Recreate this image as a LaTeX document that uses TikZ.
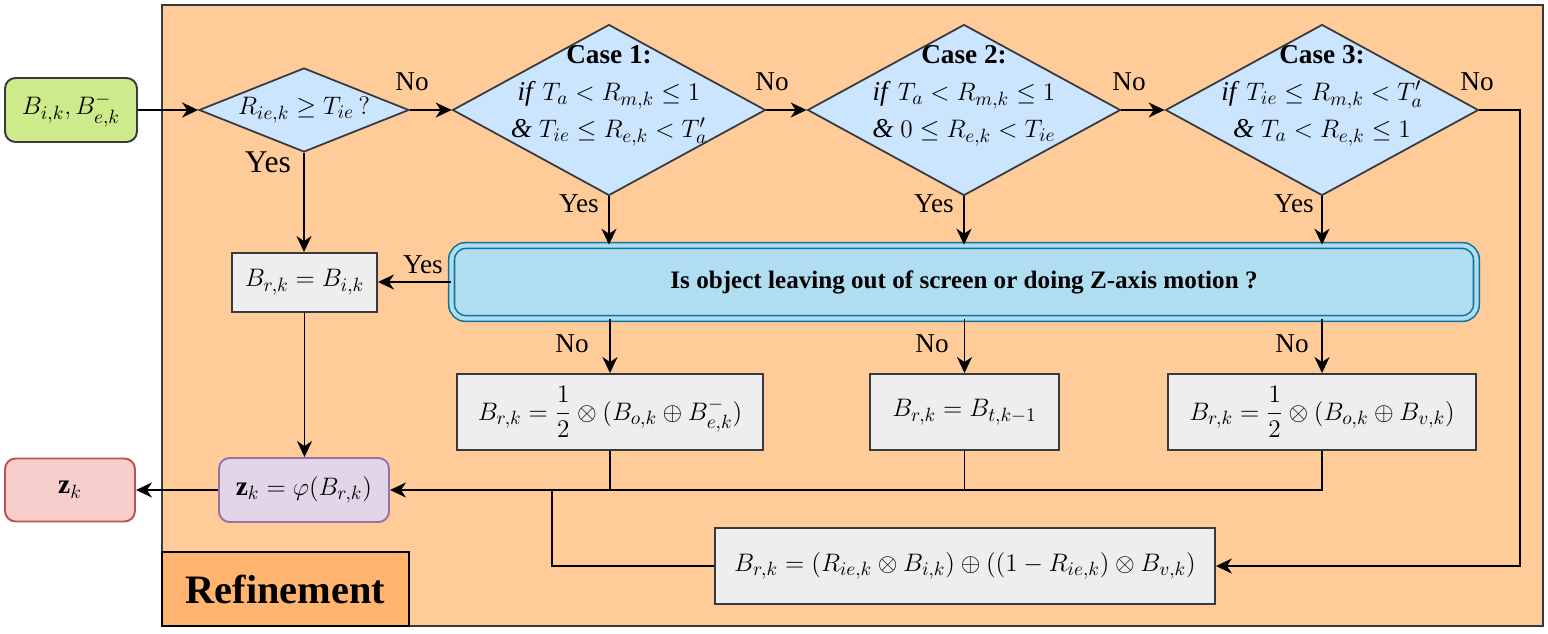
\documentclass[tikz,border=0pt]{standalone}
\usepackage{amsmath}
\usepackage{fontspec}
\setmainfont{Liberation Serif}
\usetikzlibrary{shapes.geometric,arrows.meta}
\definecolor{edge}{HTML}{36393D}
\definecolor{framefill}{HTML}{FFCC99}
\definecolor{tagfill}{HTML}{FFB570}
\definecolor{infill}{HTML}{CDEB8B}
\definecolor{diafill}{HTML}{CCE5FF}
\definecolor{askfill}{HTML}{B1DDF0}
\definecolor{askedge}{HTML}{10739E}
\definecolor{procfill}{HTML}{EEEEEE}
\definecolor{phifill}{HTML}{E1D5E7}
\definecolor{phiedge}{HTML}{9673A6}
\definecolor{outfill}{HTML}{F8CECC}
\definecolor{outedge}{HTML}{B85450}

\tikzset{
  arr/.style={-{Stealth[length=3.2mm,width=3mm,inset=1mm]},line width=1.1pt},
  link/.style={line width=1.1pt},
  box/.style={draw=edge,fill=procfill,line width=1.1pt,inner sep=0pt,minimum height=1.52cm},
  dia/.style={diamond,draw=edge,fill=diafill,line width=1pt,inner sep=0pt,minimum width=6.26cm,minimum height=3.42cm},
  diatext/.style={align=center,font=\fontsize{15.5}{21}\selectfont},
  lbl/.style={inner sep=0pt},
}

\begin{document}
\begin{tikzpicture}[x=0.02cm,y=-0.02cm,font=\fontsize{15.5}{18}\selectfont]
  \useasboundingbox (0,0) rectangle (1548,633);
  % frame
  \draw[draw=edge,fill=framefill,line width=1.2pt] (162,5) rectangle (1543,626);
  \node[draw=black,fill=tagfill,line width=1.2pt,minimum width=4.94cm,minimum height=1.48cm,inner sep=0pt,
        font=\fontsize{23}{28}\selectfont\bfseries] (tag) at (285.5,589) {Refinement};

  % input / output
  \node[draw=edge,fill=infill,line width=1.1pt,rounded corners=6pt,minimum width=2.64cm,minimum height=1.28cm,inner sep=0pt]
    (in) at (71,110) {$B_{i,k}, B^{-}_{e,k}$};
  \node[draw=outedge,fill=outfill,line width=1.1pt,rounded corners=6pt,minimum width=2.6cm,minimum height=1.26cm,inner sep=0pt]
    (out) at (70,490) {$\mathbf{z}_k$};
  \node[draw=phiedge,fill=phifill,line width=1.1pt,rounded corners=6pt,minimum width=3.4cm,minimum height=1.28cm,inner sep=0pt]
    (phi) at (304,490) {$\mathbf{z}_k = \varphi(B_{r,k})$};

  % decisions
  \node[dia,minimum width=4.2cm,minimum height=1.68cm] (d0) at (304,110) {};
  \node[inner sep=0pt] (c0) at (304,110) {$R_{ie,k} \ge T_{ie}\,?$};
  \node[dia] (d1) at (609,110) {};
  \node[dia] (d2) at (964,110) {};
  \node[dia] (d3) at (1322,110) {};
  \node[diatext] (c1) at (609,96) {\textbf{Case 1:}\\ \textit{if} $T_a < R_{m,k} \le 1$\\ \textit{\&} $T_{ie} \le R_{e,k} < T'_a$};
  \node[diatext] (c2) at (964,96) {\textbf{Case 2:}\\ \textit{if} $T_a < R_{m,k} \le 1$\\ \textit{\&} $0 \le R_{e,k} < T_{ie}$};
  \node[diatext] (c3) at (1322,96) {\textbf{Case 3:}\\ \textit{if} $T_{ie} \le R_{m,k} < T'_a$\\ \textit{\&} $T_a < R_{e,k} \le 1$};

  \node[draw=askedge,double=askfill,double distance=2.4pt,line width=0.9pt,fill=askfill,rounded corners=8pt,
        minimum width=20.5cm,minimum height=1.46cm,inner sep=0pt,font=\fontsize{14.3}{17}\selectfont\bfseries]
    (ask) at (964,282) {Is object leaving out of screen or doing Z-axis motion ?};

  % updates
  \node[box,minimum width=2.9cm,minimum height=1.18cm] (keep) at (304.5,282.5) {$B_{r,k} = B_{i,k}$};
  \node[box,minimum width=6.12cm] (avg) at (610,412) {$B_{r,k} = \dfrac{1}{2} \otimes (B_{o,k} \oplus B^{-}_{e,k})$};
  \node[box,minimum width=3.78cm] (hold) at (964.5,412) {$B_{r,k} = B_{t,k-1}$};
  \node[box,minimum width=6.16cm] (vel) at (1322,412) {$B_{r,k} = \dfrac{1}{2} \otimes (B_{o,k} \oplus B_{v,k})$};
  \node[box,minimum width=10cm] (mix) at (965,566) {$B_{r,k} = (R_{ie,k} \otimes B_{i,k}) \oplus ((1 - R_{ie,k}) \otimes B_{v,k})$};

  % labels
  \node[lbl] (no0) at (412,82) {No};
  \node[lbl] (no1) at (772,82) {No};
  \node[lbl] (no2) at (1129,82) {No};
  \node[lbl] (no3) at (1477,82) {No};
  \node[lbl,font=\fontsize{18}{20}\selectfont] (yes0) at (268,162) {Yes};
  \node[lbl] (yes1) at (579,204) {Yes};
  \node[lbl] (yes2) at (934,204) {Yes};
  \node[lbl] (yes3) at (1294,204) {Yes};
  \node[lbl] (yes4) at (423,265) {Yes};
  \node[lbl] (no4) at (572,344) {No};
  \node[lbl] (no5) at (932,344) {No};
  \node[lbl] (no6) at (1292,344) {No};

  % connectors
  \coordinate (turn) at (1520,110);
  \coordinate (join) at (552,490);
  \draw[arr] (in) -- (d0);
  \draw[arr] (d0) -- (d1);
  \draw[arr] (d1) -- (d2);
  \draw[arr] (d2) -- (d3);
  \draw[arr] (d0.south) -- (d0.south |- keep.north);
  \draw[arr] (d1.south) -- (d1.south |- ask.north);
  \draw[arr] (d2.south) -- (d2.south |- ask.north);
  \draw[arr] (d3.south) -- (d3.south |- ask.north);
  \draw[arr] (ask.west) -- (ask.west -| keep.east);
  \draw[arr] (ask.south -| avg.north) -- (avg.north);
  \draw[arr] (ask.south -| hold.north) -- (hold.north);
  \draw[arr] (ask.south -| vel.north) -- (vel.north);
  \draw[arr] (keep.south) -- (keep.south |- phi.north);
  \draw[link] (avg.south) -- (avg.south |- phi.east);
  \draw[link] (hold.south) -- (hold.south |- phi.east);
  \draw[arr] (vel.south) |- (phi.east);
  \draw[link] (mix.west) -| (join);
  \draw[arr] (d3.east) -- (turn) |- (mix.east);
  \draw[arr] (phi) -- (out);
\end{tikzpicture}
\end{document}
